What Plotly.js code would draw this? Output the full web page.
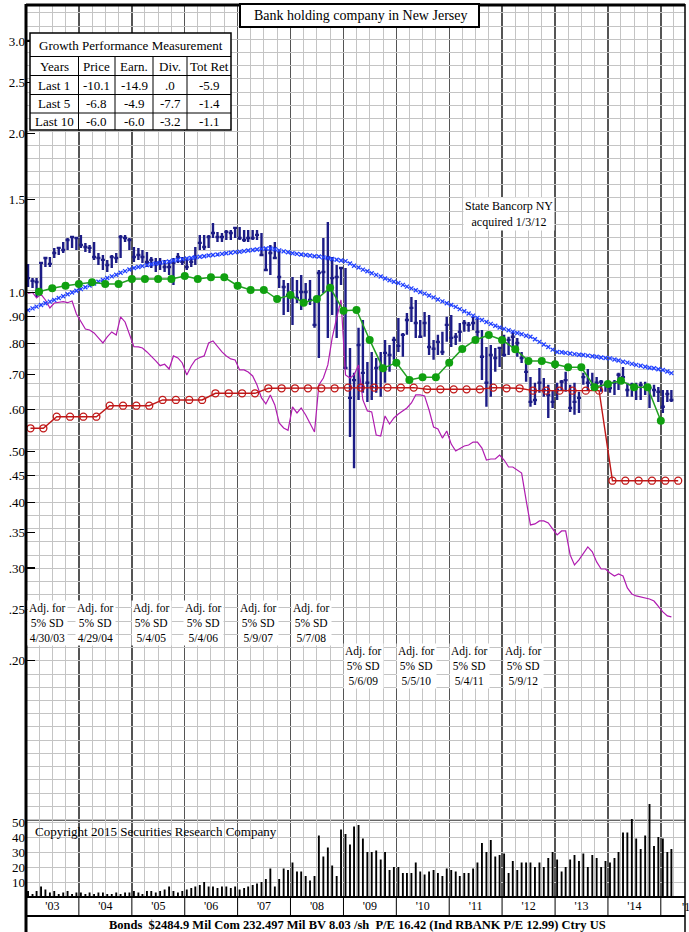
<!DOCTYPE html>
<html><head><meta charset="utf-8">
<script src="https://cdn.plot.ly/plotly-3.0.1.min.js"></script>
<style>body{margin:0;padding:0;background:#fff}#chart{width:689px;height:932px}</style>
</head><body><div id="chart"></div>
<script>
// ---------------- DATA ----------------
const startYear = 2003, nMonths = 147; // Jan 2003 .. Mar 2015
const monthDates = [];
for (let i = 0; i < nMonths; i++) {
  const y = startYear + Math.floor(i / 12), m = (i % 12) + 1;
  monthDates.push(y + '-' + String(m).padStart(2, '0') + '-15');
}
const priceHigh = [
 1.133,1.065,1.065,1.143,1.168,1.168,1.215,1.220,1.247,1.269,1.274,1.274,
 1.286,1.242,1.231,1.247,1.188,1.178,1.153,1.178,1.188,1.286,1.286,1.269,
 1.220,1.215,1.204,1.194,1.168,1.163,1.163,1.153,1.153,1.163,1.188,1.168,
 1.163,1.163,1.220,1.286,1.286,1.286,1.355,1.303,1.297,1.314,1.314,1.331,
 1.331,1.314,1.314,1.314,1.314,1.297,1.215,1.231,1.247,1.204,1.056,1.042,
 1.070,1.056,1.080,1.042,1.056,0.976,1.103,1.269,1.361,1.168,1.128,1.118,
 1.113,0.785,0.704,0.857,0.887,0.738,0.771,0.751,0.771,0.813,0.795,0.824,
 0.895,0.838,0.914,0.981,0.968,0.887,0.918,0.906,0.813,0.831,0.842,0.899,
 0.906,0.838,0.875,0.887,0.879,0.899,0.895,0.849,0.788,0.795,0.785,0.788,
 0.831,0.824,0.842,0.820,0.771,0.738,0.691,0.674,0.719,0.688,0.668,0.653,
 0.674,0.682,0.707,0.668,0.674,0.648,0.704,0.716,0.704,0.691,0.682,0.677,
 0.677,0.682,0.704,0.722,0.674,0.674,0.674,0.677,0.677,0.668,0.668,0.662,
 0.653,0.653,0.653];
const priceLow = [
 1.024,1.020,0.981,1.002,1.118,1.118,1.163,1.178,1.188,1.204,1.215,1.204,
 1.215,1.194,1.188,1.153,1.128,1.103,1.094,1.113,1.138,1.163,1.247,1.204,
 1.143,1.153,1.138,1.118,1.113,1.094,1.103,1.094,1.080,1.033,1.138,1.128,
 1.103,1.118,1.128,1.204,1.204,1.215,1.269,1.247,1.247,1.258,1.258,1.269,
 1.258,1.247,1.247,1.258,1.258,1.178,1.103,1.080,1.163,1.020,0.906,0.918,
 0.868,0.955,0.926,0.947,0.947,0.857,0.751,0.998,0.820,0.906,0.820,1.033,
 0.719,0.532,0.464,0.625,0.645,0.620,0.625,0.645,0.634,0.674,0.707,0.745,
 0.771,0.755,0.831,0.879,0.820,0.820,0.824,0.761,0.745,0.761,0.761,0.806,
 0.788,0.795,0.806,0.842,0.842,0.849,0.813,0.682,0.607,0.634,0.707,0.722,
 0.755,0.761,0.785,0.755,0.735,0.677,0.607,0.612,0.645,0.634,0.578,0.604,
 0.625,0.653,0.648,0.593,0.586,0.591,0.668,0.653,0.653,0.659,0.648,0.648,
 0.645,0.639,0.653,0.677,0.634,0.634,0.625,0.625,0.639,0.604,0.634,0.620,
 0.591,0.620,0.620];
const priceClose = [
 1.065,1.052,1.047,1.138,1.163,1.133,1.188,1.215,1.204,1.258,1.274,1.269,
 1.231,1.220,1.215,1.168,1.163,1.153,1.128,1.168,1.163,1.274,1.269,1.258,
 1.168,1.178,1.168,1.143,1.153,1.138,1.138,1.118,1.118,1.138,1.168,1.143,
 1.118,1.143,1.168,1.242,1.220,1.274,1.297,1.274,1.274,1.303,1.297,1.326,
 1.269,1.258,1.269,1.269,1.286,1.178,1.103,1.188,1.163,1.070,1.024,0.989,
 0.981,0.976,1.002,1.002,0.968,0.868,1.089,1.094,1.163,1.065,1.070,1.113,
 0.719,0.631,0.682,0.795,0.704,0.674,0.662,0.719,0.722,0.768,0.761,0.813,
 0.792,0.831,0.887,0.935,0.875,0.824,0.875,0.788,0.782,0.806,0.771,0.868,
 0.820,0.824,0.842,0.875,0.868,0.875,0.842,0.755,0.674,0.761,0.751,0.785,
 0.761,0.813,0.824,0.802,0.751,0.707,0.620,0.625,0.674,0.653,0.639,0.620,
 0.653,0.677,0.682,0.604,0.620,0.631,0.691,0.674,0.668,0.674,0.677,0.668,
 0.659,0.674,0.698,0.691,0.653,0.668,0.662,0.668,0.662,0.659,0.653,0.648,
 0.607,0.642,0.625];
const movingAvg = [
 0.926,0.933,0.940,0.947,0.954,0.961,0.968,0.976,0.984,0.992,1.000,1.008,
 1.015,1.023,1.031,1.040,1.048,1.056,1.065,1.073,1.081,1.090,1.098,1.106,
 1.113,1.118,1.122,1.127,1.131,1.135,1.138,1.142,1.145,1.150,1.154,1.157,
 1.160,1.163,1.166,1.169,1.172,1.175,1.178,1.181,1.184,1.187,1.190,1.193,
 1.195,1.198,1.201,1.204,1.207,1.210,1.212,1.212,1.208,1.202,1.197,1.192,
 1.187,1.184,1.181,1.178,1.175,1.172,1.170,1.166,1.162,1.158,1.154,1.150,
 1.147,1.135,1.124,1.115,1.105,1.097,1.088,1.080,1.072,1.063,1.055,1.048,
 1.042,1.034,1.026,1.018,1.010,1.002,0.995,0.987,0.979,0.970,0.962,0.954,
 0.947,0.939,0.930,0.921,0.912,0.904,0.895,0.887,0.879,0.872,0.865,0.858,
 0.853,0.848,0.843,0.838,0.833,0.828,0.824,0.815,0.806,0.797,0.788,0.779,
 0.771,0.770,0.768,0.766,0.764,0.762,0.761,0.759,0.757,0.755,0.753,0.751,
 0.750,0.746,0.743,0.739,0.736,0.732,0.729,0.726,0.723,0.720,0.718,0.715,
 0.713,0.708,0.703];
const relStrength = [
 0.9965,1.000,0.9763,0.9922,0.9678,0.9346,0.9552,0.9593,0.9606,0.9564,0.9635,0.9104,
 0.8792,0.8527,0.8490,0.8380,0.8199,0.8022,0.8235,0.8417,0.8307,0.8986,0.8792,0.8307,
 0.7891,0.7883,0.7849,0.7713,0.7579,0.7416,0.7263,0.7309,0.7159,0.7579,0.7514,0.7351,
 0.6975,0.7254,0.7448,0.7529,0.7579,0.8022,0.8092,0.7883,0.7713,0.7579,0.7481,0.7448,
 0.7129,0.7129,0.7067,0.6945,0.6677,0.6308,0.6145,0.6391,0.6118,0.5654,0.5533,0.5478,
 0.6065,0.5908,0.6039,0.5857,0.5630,0.5436,0.6677,0.6884,0.7286,0.8199,0.8947,0.9678,
 0.6975,0.6884,0.6975,0.7286,0.6253,0.5960,0.5934,0.5365,0.5342,0.5831,0.5630,0.5780,
 0.5882,0.5960,0.6039,0.6172,0.6391,0.6391,0.6364,0.5985,0.5557,0.5509,0.5294,0.5461,
 0.5157,0.5002,0.5046,0.5113,0.5135,0.5203,0.5203,0.5068,0.4810,0.4831,0.4831,0.4916,
 0.4810,0.4665,0.4665,0.4604,0.4544,0.4038,0.3622,0.3638,0.3686,0.3686,0.3654,0.3559,
 0.3467,0.3528,0.3528,0.3178,0.3041,0.3109,0.3206,0.3291,0.3220,0.3082,0.2988,0.2988,
 0.2936,0.2898,0.2923,0.2898,0.2750,0.2679,0.2656,0.2644,0.2632,0.2621,0.2598,0.2531,
 0.2477,0.2434,0.2424];
const volume = [
 4,2,4,7,5,3,4,2,3,4,2,3,
 3,2,3,2,3,3,2,2,3,2,3,3,
 4,3,2,4,4,3,4,5,7,4,3,4,
 5,6,7,8,10,7,7,6,7,7,6,7,
 5,6,7,8,9,10,12,19,7,12,19,18,
 23,17,17,14,11,14,41,27,33,21,14,45,
 42,35,47,48,39,30,30,31,25,30,18,20,
 20,16,16,16,23,17,15,17,18,16,14,19,
 18,17,14,16,16,19,23,36,30,38,27,28,
 29,16,24,18,23,23,23,20,23,20,26,30,
 25,17,20,25,28,24,29,20,28,26,20,24,
 23,26,30,43,43,52,39,32,41,62,34,40,
 39,30,32];
const earnDates = [];
for (let y = 2003; y <= 2015; y++) for (const m of ['01','04','07','10']) {
  const d = y + '-' + m + '-01';
  if (d >= '2003-04-01' && d <= '2015-01-01') earnDates.push(d);
}
const earnings = [
 1.0035,1.0185,1.0301,
 1.0378,1.0456,1.0378,1.0378,
 1.0608,1.0608,1.0608,1.0608,
 1.0747,1.0608,1.0687,1.0687,
 1.0301,1.0110,1.0110,0.9720,
 0.9891,0.9564,0.9720,1.0212,
 0.9236,0.9264,0.8128,0.7180,
 0.7360,0.6824,0.6905,0.6905,
 0.7360,0.7815,0.8128,0.8307,
 0.8128,0.7805,0.7416,0.7416,
 0.7309,0.7213,0.7213,0.6610,
 0.6706,0.6804,0.6610,0.6610,
 0.5712];
const divDates = [];
for (let y = 2003; y <= 2015; y++) for (const m of ['02','05','08','11']) {
  const d = y + '-' + m + '-01';
  if (d <= '2015-05-01') divDates.push(d);
}
const dividends = [
 0.5525,0.5525,0.5812,0.5812,
 0.5812,0.5812,0.6098,0.6098,
 0.6098,0.6098,0.6253,0.6253,
 0.6253,0.6253,0.6438,0.6438,
 0.6438,0.6438,0.6580,0.6580,
 0.6580,0.6580,0.6580,0.6580,
 0.6600,0.6600,0.6600,0.6600,
 0.6600,0.6600,0.6551,0.6551,
 0.6551,0.6551,0.6551,0.6600,
 0.6580,0.6580,0.6512,0.6512,
 0.6512,0.6512,0.6512,0.6512,
 0.4394,0.4394,0.4394,0.4394,
 0.4394,0.4394];
const priceTickVals = [3.0,2.5,2.0,1.5,1.0,0.9,0.8,0.7,0.6,0.5,0.45,0.4,0.35,0.3,0.25,0.2];
const priceTickText = ['3.0','2.5','2.0','1.5','1.0','.90','.80','.70','.60','.50','.45','.40','.35','.30','.25','.20'];
const volTickVals = [10,20,30,40,50];
const tableRows = [
 ['Years','Price','Earn.','Div.','Tot Ret'],
 ['Last 1','-10.1','-14.9','.0','-5.9'],
 ['Last 5','-6.8','-4.9','-7.7','-1.4'],
 ['Last 10','-6.0','-6.0','-3.2','-1.1']];
const splitNotes = ['4/30/03','4/29/04','5/4/05','5/4/06','5/9/07','5/7/08','5/6/09','5/5/10','5/4/11','5/9/12'];

// ---------------- LAYOUT HELPERS ----------------
const W = 689, H = 932, ML = 26, MR = 4, MT = 5, MB = 35;
const PW = W - ML - MR, PH = H - MT - MB;
const px = x => (x - ML) / PW;
const py = y => (H - MB - y) / PH;
const SERIF = 'Liberation Serif, Times New Roman, serif';
const gridVals = Array.from({length: 62}, (_, i) => i);

const traces = [
 {type:'bar', x: monthDates, y: volume, yaxis:'y', width: 13*86400000,
  marker:{color:'#000'}, hoverinfo:'skip', showlegend:false},
 {type:'scatter', x: [], y: [], yaxis:'y3', hoverinfo:'skip', showlegend:false},
 {type:'scatter', mode:'lines', x: monthDates, y: relStrength, yaxis:'y2',
  line:{color:'#b01cb0', width:1.2}, hoverinfo:'skip', showlegend:false},
 {type:'scatter', mode:'lines+markers', x: divDates, y: dividends, yaxis:'y2',
  line:{color:'#c01818', width:1.4},
  marker:{symbol:'circle-open', size:7, color:'#c01818', line:{width:1.3, color:'#c01818'}},
  hoverinfo:'skip', showlegend:false},
 {type:'ohlc', x: monthDates, open: priceClose, high: priceHigh, low: priceLow, close: priceClose,
  yaxis:'y2', tickwidth:0.5,
  increasing:{line:{color:'#1c1c86', width:2.4}}, decreasing:{line:{color:'#1c1c86', width:2.4}},
  hoverinfo:'none', showlegend:false},
 {type:'scatter', mode:'lines+markers', x: monthDates, y: movingAvg, yaxis:'y2',
  line:{color:'#3a55ff', width:0.8, dash:'dot'},
  marker:{symbol:'x-thin', size:4, line:{width:1.3, color:'#2040ff'}},
  hoverinfo:'skip', showlegend:false},
 {type:'scatter', mode:'lines+markers', x: earnDates, y: earnings, yaxis:'y2',
  line:{color:'#22a022', width:1.5}, marker:{size:8, color:'#10a010'},
  hoverinfo:'skip', showlegend:false}
];

const shapes = [];
const annotations = [];
const note = (x, y, text, extra) => Object.assign({xref:'paper', yref:'paper', x:px(x), y:py(y), text:text,
  showarrow:false, xanchor:'center', yanchor:'middle', font:{family:SERIF, size:13, color:'#000'}}, extra || {});
// label-row separators
for (let y = 2004; y <= 2015; y++) {
  shapes.push({type:'line', xref:'x', yref:'paper', x0: y+'-01-01', x1: y+'-01-01',
    y0: 0, y1: py(916), line:{color:'#000', width:1}});
}
// borders
shapes.push({type:'line', xref:'paper', yref:'paper', x0:0, x1:0, y0:py(932), y1:py(4), line:{color:'#000', width:3}, layer:'above'});
shapes.push({type:'line', xref:'paper', yref:'paper', x0:px(685), x1:px(685), y0:py(932), y1:py(4), line:{color:'#000', width:1.5}, layer:'above'});
shapes.push({type:'line', xref:'paper', yref:'paper', x0:0, x1:1, y0:1, y1:1, line:{color:'#000', width:3}, layer:'above'});
shapes.push({type:'line', xref:'paper', yref:'paper', x0:0, x1:1, y0:0, y1:0, line:{color:'#000', width:2}, layer:'above'});
shapes.push({type:'line', xref:'paper', yref:'paper', x0:0, x1:1, y0:py(820), y1:py(820), line:{color:'#333', width:1.5}, layer:'between'});
shapes.push({type:'line', xref:'paper', yref:'paper', x0:0, x1:1, y0:py(916), y1:py(916), line:{color:'#000', width:2}, layer:'above'});
// title box
shapes.push({type:'rect', xref:'paper', yref:'paper', x0:px(240), x1:px(479), y0:py(27), y1:py(4),
  fillcolor:'#fff', line:{color:'#000', width:2}, layer:'above'});
annotations.push(note(360, 15.5, 'Bank holding company in New Jersey', {font:{family:SERIF, size:14, color:'#000'}}));
// table
const tL = 30, tR = 231, tT = 33, tB = 130;
const rowLines = [56.5, 75.5, 94.5, 113];
const colLines = [78.5, 115, 153, 187];
shapes.push({type:'rect', xref:'paper', yref:'paper', x0:px(tL), x1:px(tR), y0:py(tB), y1:py(tT),
  fillcolor:'#fff', line:{color:'#000', width:1.5}, layer:'above'});
rowLines.forEach(r => shapes.push({type:'line', xref:'paper', yref:'paper', x0:px(tL), x1:px(tR), y0:py(r), y1:py(r), line:{color:'#000', width:1}, layer:'above'}));
colLines.forEach(c => shapes.push({type:'line', xref:'paper', yref:'paper', x0:px(c), x1:px(c), y0:py(rowLines[0]), y1:py(tB), line:{color:'#000', width:1}, layer:'above'}));
annotations.push(note((tL+tR)/2, 45, 'Growth Performance Measurement'));
const colEdges = [tL].concat(colLines, [tR]);
const rowEdges = rowLines.concat([tB]);
tableRows.forEach((row, ri) => {
  row.forEach((cell, ci) => {
    annotations.push(note((colEdges[ci]+colEdges[ci+1])/2, (rowEdges[ri]+rowEdges[ri+1])/2, cell));
  });
});
// State Bancorp note
annotations.push(note(509, 214, 'State Bancorp NY<br>acquired 1/3/12', {bgcolor:'#fff', font:{family:SERIF, size:12, color:'#000'}}));
// split notes
const noteX = [47, 95, 151, 204, 258, 311, 363, 416, 469, 523];
splitNotes.forEach((d, i) => {
  annotations.push(note(noteX[i], i < 6 ? 622.5 : 665.5, 'Adj. for<br>5% SD<br>' + d,
    {bgcolor:'#fff', borderpad:1, font:{family:SERIF, size:11.5, color:'#000'}}));
});
annotations.push(note(33, 831, 'Copyright 2015 Securities Research Company', {xanchor:'left'}));
annotations.push(note(357, 925,
  '<b>Bonds  $2484.9 Mil Com 232.497 Mil BV 8.03 /sh  P/E 16.42 (Ind RBANK P/E 12.99) Ctry US</b>',
  {font:{family:SERIF, size:12.5, color:'#000'}}));
annotations.push(note(686, 907, "'1", {font:{family:SERIF, size:12, color:'#000'}}));

const layout = {
  width: W, height: H, margin:{l:ML, r:MR, t:MT, b:MB},
  paper_bgcolor:'#fff', plot_bgcolor:'#fff', showlegend:false,
  font:{family:SERIF, color:'#000'},
  xaxis:{type:'date', range:['2003-01-01','2015-06-17'], dtick:'M12', tick0:'2003-01-01',
    ticklabelmode:'period', tickformat:"'%y", ticks:'', showgrid:true, gridcolor:'#555', gridwidth:1.4,
    minor:{dtick:'M3', tick0:'2003-01-01', showgrid:true, gridcolor:'#c4c4c4', gridwidth:1},
    tickfont:{family:SERIF, size:12, color:'#000'}, showline:false, zeroline:false,
    rangeslider:{visible:false}, fixedrange:true},
  yaxis:{domain:[0,1], range:[0, 594.7], tickvals: volTickVals, ticktext: volTickVals.map(String),
    showgrid:true, gridcolor:'#c4c4c4', zeroline:false, ticks:'', showline:false,
    tickfont:{family:SERIF, size:13, color:'#000'}, fixedrange:true},
  yaxis2:{overlaying:'y', side:'left', type:'log', range:[-1.147, 0.5455],
    tickvals: priceTickVals, ticktext: priceTickText, ticks:'inside', ticklen:9, tickcolor:'#000', tickwidth:1.2,
    showgrid:false, zeroline:false, showline:false, tickfont:{family:SERIF, size:13, color:'#000'}, fixedrange:true},
  yaxis3:{overlaying:'y', side:'right', range:[-5.86, 61.59], tickvals: gridVals, showticklabels:false,
    ticks:'', showgrid:true, gridcolor:'#c4c4c4', gridwidth:1, zeroline:false, showline:false, fixedrange:true},
  shapes: shapes, annotations: annotations
};
Plotly.newPlot('chart', traces, layout, {staticPlot:true, displayModeBar:false});
</script></body></html>
